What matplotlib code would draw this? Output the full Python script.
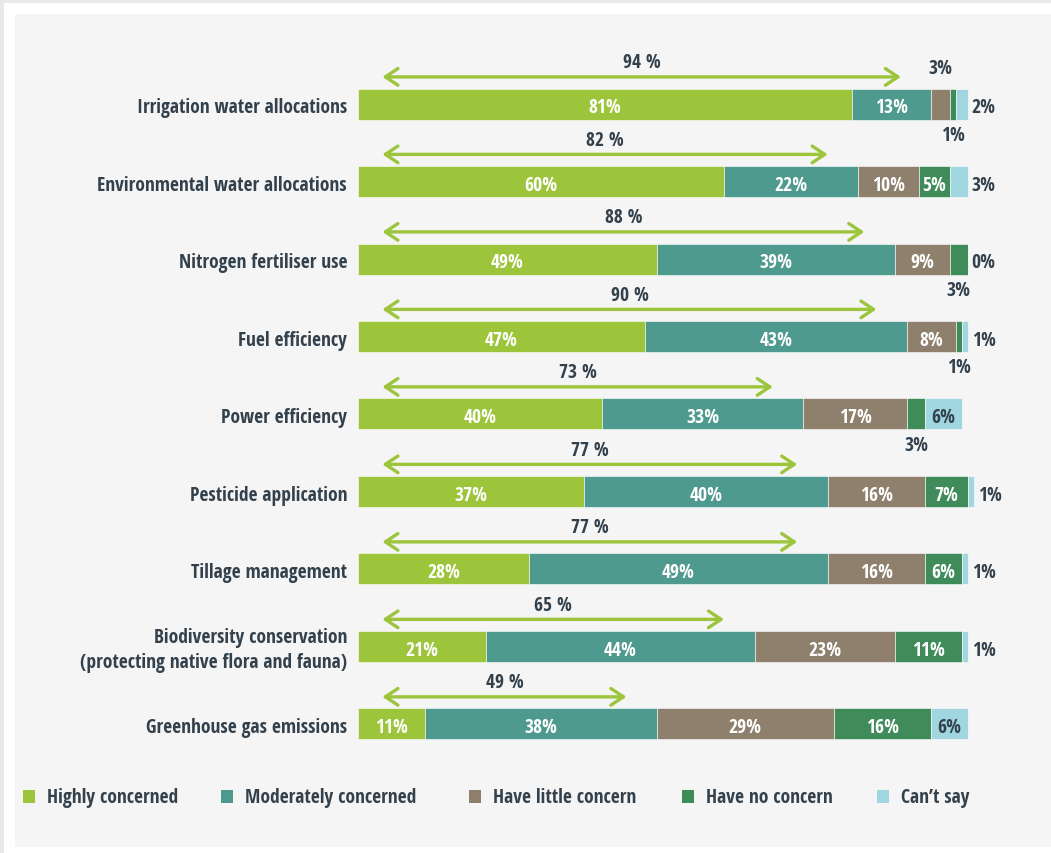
import matplotlib
matplotlib.use("Agg")
import matplotlib.pyplot as plt
import matplotlib.patches as mpatches
import numpy as np

plt.rcParams['font.family'] = ['Open Sans Condensed', 'IBM Plex Sans Condensed', 'DejaVu Sans']

categories = ["Irrigation water allocations",
              "Environmental water allocations",
              "Nitrogen fertiliser use",
              "Fuel efficiency",
              "Power efficiency",
              "Pesticide application",
              "Tillage management",
              "Biodiversity conservation\n(protecting native flora and fauna)",
              "Greenhouse gas emissions"]
highly = [81, 60, 49, 47, 40, 37, 28, 21, 11]
moderately = [13, 22, 39, 43, 33, 40, 49, 44, 38]
little = [3, 10, 9, 8, 17, 16, 16, 23, 29]
no_concern = [1, 5, 3, 1, 3, 7, 6, 11, 16]
cant_say = [2, 3, 0, 1, 6, 1, 1, 1, 6]
concerned = [94, 82, 88, 90, 73, 77, 77, 65, 49]

series_names = ["Highly concerned", "Moderately concerned", "Have little concern",
                "Have no concern", "Can\u2019t say"]
colors = ["#9cc53b", "#4f9a8e", "#8e806d", "#3f8c5a", "#a0d6e0"]
text_dark = "#33414d"
fs = 14
dy = 0.04  # nudge text down a touch so it sits in the middle of the bars

fig = plt.figure(figsize=(10.51, 8.54), dpi=100)
fig.patch.set_facecolor("#e9e9e9")
# white frame and light panel behind everything
fig.patches.append(mpatches.Rectangle((4/1051, 0), 1, 1 - 4/854, transform=fig.transFigure,
                                      facecolor="white", edgecolor="none", zorder=-2))
fig.patches.append(mpatches.Rectangle((15/1051, 6/854), 1, 1 - 21/854, transform=fig.transFigure,
                                      facecolor="#f5f5f5", edgecolor="none", zorder=-1))

# 100 % spans 610 px starting at x=358
ax = fig.add_axes([358/1051, 1 - 760/854, 610 * 1.05/1051, 720/854])
ax.set_xlim(0, 105)
ax.set_ylim(8.452, -0.839)
ax.axis("off")

data = np.array([highly, moderately, little, no_concern, cant_say])
y = np.arange(len(categories))
bar_h = 0.40
left = np.zeros(len(categories))
for k in range(5):
    ax.barh(y, data[k], left=left, height=bar_h, color=colors[k],
            edgecolor="white", linewidth=0.4)
    for i, v in enumerate(data[k]):
        mid = left[i] + v / 2
        lab = f"{v}%"
        if v >= 5:
            tc = text_dark if k == 4 else "white"
            ax.text(mid, y[i] + dy, lab, ha="center", va="center", color=tc,
                    fontsize=fs, fontweight="bold")
        elif k == 2:
            ax.text(mid, y[i] - 0.50 + dy, lab, ha="center", va="center", color=text_dark,
                    fontsize=fs, fontweight="bold")
        elif k == 3:
            ax.text(mid, y[i] + 0.40, lab, ha="center", va="center", color=text_dark,
                    fontsize=fs, fontweight="bold")
        else:
            ax.text(left[i] + v + 0.6, y[i] + dy, lab, ha="left", va="center",
                    color=text_dark, fontsize=fs, fontweight="bold")
    left = left + data[k]

# combined concern arrows
for i, c in enumerate(concerned):
    x0, x1 = 4, c - 5
    ax.annotate("", xy=(x1, y[i] - 0.35), xytext=(x0, y[i] - 0.35),
                arrowprops=dict(arrowstyle="<->,head_length=0.9,head_width=0.6",
                                color=colors[0], lw=2.4, shrinkA=0, shrinkB=0))
    ax.text((x0 + x1) / 2, y[i] - 0.54, f"{c} %", ha="center", va="center",
            color=text_dark, fontsize=fs, fontweight="bold")

# category labels
for i, cat in enumerate(categories):
    ax.text(-1.8, y[i] + dy, cat, ha="right", va="center", color=text_dark,
            fontsize=fs, fontweight="bold", linespacing=1.3)

# legend row
leg_x = [23, 221, 469, 682, 877]
for k, name in enumerate(series_names):
    fig.patches.append(mpatches.Rectangle((leg_x[k]/1051, 1 - 804/854), 12/1051, 13/854,
                                          transform=fig.transFigure, facecolor=colors[k],
                                          edgecolor="none"))
    fig.text((leg_x[k] + 24)/1051, 1 - 798/854, name, ha="left", va="center",
             color=text_dark, fontsize=fs, fontweight="bold")

fig.savefig("out.png", dpi=100, facecolor=fig.get_facecolor())
